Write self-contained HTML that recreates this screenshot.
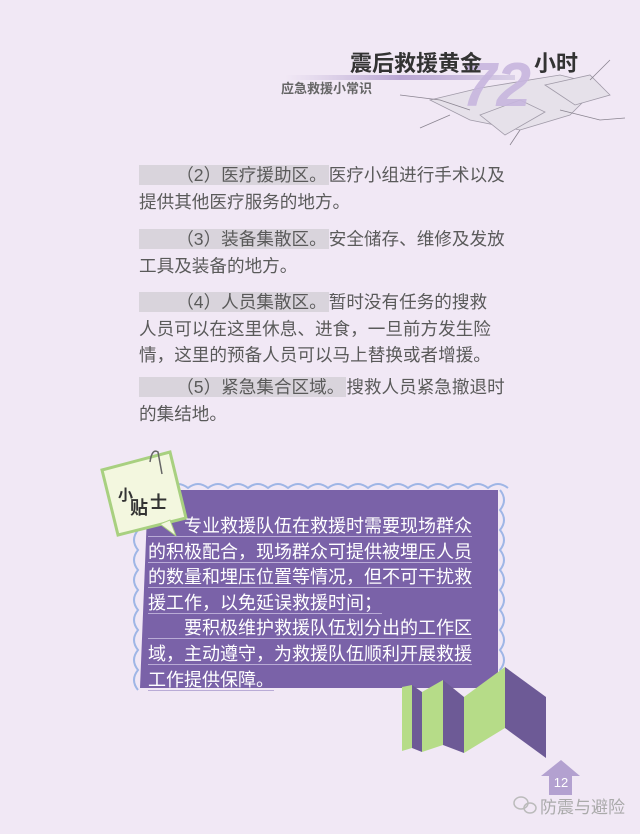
<!DOCTYPE html>
<html><head><meta charset="utf-8"><style>
body{margin:0;width:640px;height:834px;overflow:hidden;background:#f1e8f5;font-family:"Liberation Sans","Noto Sans CJK SC",sans-serif;position:relative}
.a{position:absolute}
.p{position:absolute;left:139px;font-size:17.6px;color:#5a5a5a;line-height:27px;white-space:nowrap}
.hl{background:#d9d4dc;padding:0 2px}
.tip{position:absolute;left:148px;font-size:18px;color:#fff;line-height:25.6px;white-space:nowrap}
.tip span{border-bottom:1px solid #b9abd6}
</style></head><body>
<svg class="a" style="left:0;top:0" width="640" height="834">
 <defs><linearGradient id="g" x1="0" x2="1"><stop offset="0" stop-color="#c6b8d9" stop-opacity="0"/><stop offset="0.5" stop-color="#b9a6d3"/><stop offset="1" stop-color="#d9cfe6"/></linearGradient></defs>
 <rect x="285" y="75" width="230" height="5" fill="url(#g)"/>
 <g fill="#e6e1ea" stroke="#a09aa8" stroke-width="0.8">
  <polygon points="430,100 480,88 560,75 600,85 570,115 520,130 470,120"/>
  <polygon points="480,115 520,100 545,112 505,135"/>
  <polygon points="545,85 590,75 610,95 575,105"/>
 </g>
 <g stroke="#8a8490" stroke-width="0.8" fill="none"><path d="M400,95 L440,100 L470,110 M520,130 L510,145 M560,110 L600,120 L625,118 M590,80 L610,60 M450,115 L420,128"/></g>
 <text x="462" y="106" font-family="Liberation Sans" font-weight="bold" font-style="italic" font-size="62" fill="#c7b6de" opacity="0.9">72</text>
 <path d="M148,490 L498,490 L498,688 L140,688 Z" fill="#7a62a8"/>
 <path d="M148,488 q10,-8 20,0 q10,-8 20,0 q10,-8 20,0 q10,-8 20,0 q10,-8 20,0 q10,-8 20,0 q10,-8 20,0 q10,-8 20,0 q10,-8 20,0 q10,-8 20,0 q10,-8 20,0 q10,-8 20,0 q10,-8 20,0 q10,-8 20,0 q10,-8 20,0 q10,-8 20,0 q10,-8 20,0 q10,-8 20,0" fill="none" stroke="#9fb6e6" stroke-width="2"/>
 <path d="M500,490 q8,10 0,20 q8,10 0,20 q8,10 0,20 q8,10 0,20 q8,10 0,20 q8,10 0,20 q8,10 0,20 q8,10 0,20 q8,10 0,20 q8,10 0,20" fill="none" stroke="#9fb6e6" stroke-width="2"/>
 <path d="M138,530 q-8,10 0,20 q-8,10 0,20 q-8,10 0,20 q-8,10 0,20 q-8,10 0,20 q-8,10 0,20 q-8,10 0,20 q-8,10 0,20" fill="none" stroke="#9fb6e6" stroke-width="2"/>
 <g><polygon points="102,470 170,452 186,518 118,535" fill="#f3f7df" stroke="#a8d080" stroke-width="3"/><path d="M150,462 q2,-14 8,-10 l4,22" fill="none" stroke="#666" stroke-width="1.5"/><polygon points="170,520 176,536 160,524" fill="#f3f7df" stroke="#a8d080"/>
 <text x="118" y="500" font-size="15" font-weight="bold" fill="#333" font-family="Noto Sans CJK SC">小</text><text x="130" y="514" font-size="18" font-weight="bold" fill="#333" font-family="Noto Sans CJK SC">贴</text><text x="150" y="508" font-size="17" font-weight="bold" fill="#333" font-family="Noto Sans CJK SC">士</text></g>
 <g>
  <polygon points="402,687 412,685 412,748 402,751" fill="#b6dc88"/>
  <polygon points="412,685 422,692 422,752 412,748" fill="#6d5a96"/>
  <polygon points="422,692 443,680 443,745 422,752" fill="#b6dc88"/>
  <polygon points="443,680 464,697 464,753 443,745" fill="#6d5a96"/>
  <polygon points="464,697 505,667 505,728 464,753" fill="#b6dc88"/>
  <polygon points="505,667 546,697 546,758 505,728" fill="#6d5a96"/>
 </g>
 <g><polygon points="561,760 580,776 572,776 572,795 549,795 549,776 541,776" fill="#b3a1d0"/><text x="561" y="787" font-size="13" fill="#fff" text-anchor="middle" font-family="Liberation Sans">12</text></g>
 <g fill="none" stroke="#bbb" stroke-width="1.5"><ellipse cx="521" cy="803" rx="7" ry="6"/><ellipse cx="530" cy="808" rx="6" ry="5"/></g>
</svg>
<div class="a" style="left:350px;top:46px;font-size:22px;font-weight:bold;color:#333">震后救援黄金</div>
<div class="a" style="left:534px;top:46px;font-size:22px;font-weight:bold;color:#333">小时</div>
<div class="a" style="left:281px;top:78px;font-size:13px;font-weight:bold;color:#666">应急救援小常识</div>
<div class="p" style="top:162px"><span class="hl">&emsp;&emsp;（2）医疗援助区。</span>医疗小组进行手术以及<br>提供其他医疗服务的地方。</div>
<div class="p" style="top:226px"><span class="hl">&emsp;&emsp;（3）装备集散区。</span>安全储存、维修及发放<br>工具及装备的地方。</div>
<div class="p" style="top:289px;line-height:26.5px"><span class="hl">&emsp;&emsp;（4）人员集散区。</span>暂时没有任务的搜救<br>人员可以在这里休息、进食，一旦前方发生险<br>情，这里的预备人员可以马上替换或者增援。</div>
<div class="p" style="top:374px"><span class="hl">&emsp;&emsp;（5）紧急集合区域。</span>搜救人员紧急撤退时<br>的集结地。</div>
<div class="tip" style="top:514px"><span>&emsp;&emsp;专业救援队伍在救援时需要现场群众</span><br><span>的积极配合，现场群众可提供被埋压人员</span><br><span>的数量和埋压位置等情况，但不可干扰救</span><br><span>援工作，以免延误救援时间；</span><br><span>&emsp;&emsp;要积极维护救援队伍划分出的工作区</span><br><span>域，主动遵守，为救援队伍顺利开展救援</span><br><span>工作提供保障。</span></div>
<div class="a" style="left:540px;top:793px;font-size:17px;color:#aaa">防震与避险</div>
</body></html>
